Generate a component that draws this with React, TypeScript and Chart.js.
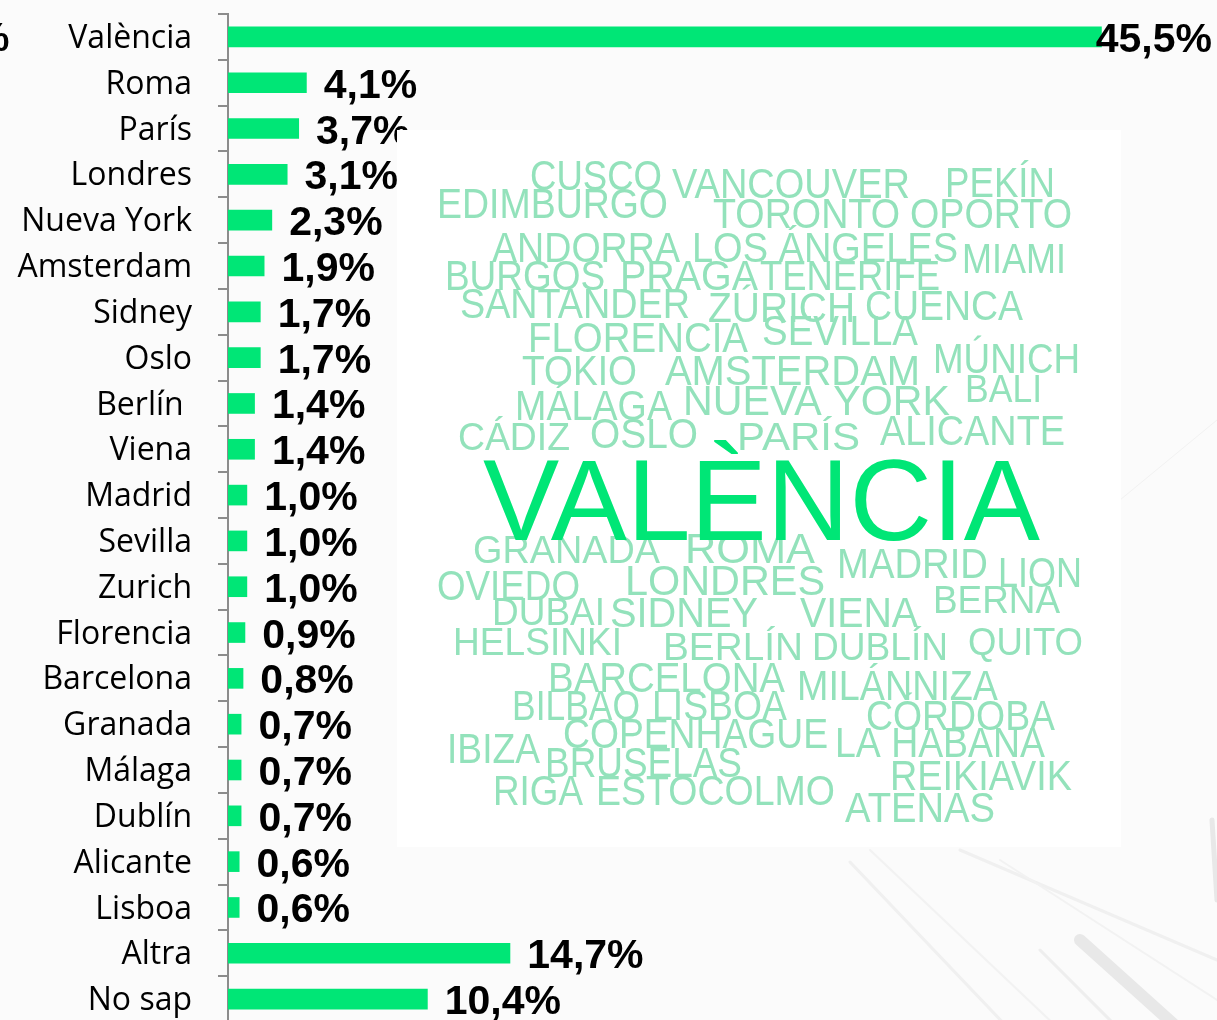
import React, { useEffect, useRef } from 'react';
import { Chart, registerables } from 'chart.js';

Chart.register(...registerables);

const categories = [
  'València', 'Roma', 'París', 'Londres', 'Nueva York', 'Amsterdam', 'Sidney', 'Oslo',
  'Berlín ', 'Viena', 'Madrid', 'Sevilla', 'Zurich', 'Florencia', 'Barcelona', 'Granada',
  'Málaga', 'Dublín', 'Alicante', 'Lisboa', 'Altra', 'No sap',
];
const values = [
  45.5, 4.1, 3.7, 3.1, 2.3, 1.9, 1.7, 1.7, 1.4, 1.4, 1.0, 1.0, 1.0, 0.9, 0.8, 0.7, 0.7, 0.7,
  0.6, 0.6, 14.7, 10.4,
];

// Decorative word cloud: [word, left, top, right, baseline]
const cloudWords: [string, number, number, number, number][] = [
  ['CUSCO', 530, 160, 662, 190],
  ['VANCOUVER', 672, 168, 910, 198],
  ['PEKÍN', 945, 167, 1055, 197],
  ['EDIMBURGO', 437, 188, 668, 218],
  ['TORONTO', 713, 198, 900, 228],
  ['OPORTO', 910, 198, 1072, 228],
  ['ANDORRA', 492, 232, 680, 262],
  ['LOS ÁNGELES', 692, 232, 958, 262],
  ['MIAMI', 962, 243, 1066, 273],
  ['BURGOS', 445, 260, 605, 290],
  ['PRAGA', 620, 260, 758, 290],
  ['TENERIFE', 760, 260, 940, 290],
  ['SANTANDER', 460, 288, 690, 318],
  ['ZÚRICH', 708, 292, 855, 322],
  ['CUENCA', 865, 290, 1023, 320],
  ['FLORENCIA', 528, 322, 748, 352],
  ['SEVILLA', 762, 315, 918, 345],
  ['TOKIO', 522, 355, 637, 385],
  ['AMSTERDAM', 665, 355, 920, 385],
  ['MÚNICH', 933, 343, 1080, 373],
  ['MÁLAGA', 515, 390, 672, 420],
  ['NUEVA YORK', 683, 385, 950, 415],
  ['BALI', 965, 374, 1042, 402],
  ['CÁDIZ', 458, 422, 570, 450],
  ['OSLO', 590, 418, 698, 448],
  ['PARÍS', 737, 422, 860, 450],
  ['ALICANTE', 880, 415, 1065, 445],
  ['GRANADA', 473, 535, 660, 563],
  ['ROMA', 685, 533, 815, 563],
  ['MADRID', 837, 548, 988, 578],
  ['LION', 998, 557, 1082, 587],
  ['OVIEDO', 437, 570, 580, 600],
  ['LONDRES', 625, 565, 825, 595],
  ['DUBAI', 492, 597, 605, 625],
  ['SIDNEY', 610, 597, 758, 627],
  ['VIENA', 800, 597, 918, 627],
  ['BERNA', 933, 585, 1060, 613],
  ['HELSINKI', 453, 627, 622, 655],
  ['BERLÍN', 663, 632, 803, 660],
  ['DUBLÍN', 812, 632, 948, 660],
  ['QUITO', 968, 627, 1083, 655],
  ['BARCELONA', 548, 662, 785, 692],
  ['MILÁNNIZA', 797, 670, 998, 700],
  ['BILBAO', 512, 690, 640, 720],
  ['LISBOA', 652, 690, 787, 720],
  ['CÓRDOBA', 866, 700, 1055, 730],
  ['COPENHAGUE', 563, 718, 828, 748],
  ['LA HABANA', 835, 727, 1045, 757],
  ['IBIZA', 447, 733, 540, 763],
  ['BRUSELAS', 545, 747, 742, 777],
  ['REIKIAVIK', 890, 760, 1072, 790],
  ['RIGA', 493, 775, 583, 805],
  ['ESTOCOLMO', 596, 775, 835, 805],
  ['ATENAS', 845, 792, 995, 822],
];
const cloudTitle: [string, number, number, number, number] = ['VALÈNCIA', 483, 458, 1040, 540];

const BAR_COLOR = '#00e676';
const WORD_COLOR = '#93e2bb';

function fmt(v: number) {
  return v.toFixed(1).replace('.', ',') + '%';
}

function drawFitted(ctx: CanvasRenderingContext2D, w: [string, number, number, number, number]) {
  const [text, x1, top, x2, base] = w;
  const size = (base - top) / 0.716;
  ctx.font = `${size}px "Liberation Sans", Arial, sans-serif`;
  const tw = ctx.measureText(text).width;
  const sx = (x2 - x1) / tw;
  ctx.save();
  ctx.translate(x1, base);
  ctx.scale(sx, 1);
  ctx.fillText(text, 0, 0);
  ctx.restore();
}

const backgroundPlugin = {
  id: 'bgDecor',
  beforeDraw(chart: any) {
    const ctx: CanvasRenderingContext2D = chart.ctx;
    ctx.save();
    ctx.fillStyle = '#fbfbfb';
    ctx.fillRect(0, 0, chart.width, chart.height);
    ctx.lineCap = 'round';
    const strokes: [number, number, number, number, number, string][] = [
      [850, 862, 1010, 1030, 3, '#f0f0f0'],
      [870, 850, 1060, 1030, 2, '#f2f2f2'],
      [960, 850, 1217, 960, 3, '#f0f0f0'],
      [1000, 860, 1217, 1000, 2, '#f2f2f2'],
      [1080, 940, 1180, 1030, 12, '#e8e8e8'],
      [1040, 950, 1120, 1030, 3, '#eeeeee'],
      [1212, 820, 1217, 900, 5, '#e8e8e8'],
      [1120, 500, 1217, 420, 1, '#f2f2f2'],
    ];
    strokes.forEach(([x1, y1, x2, y2, lw, c]) => {
      ctx.strokeStyle = c;
      ctx.lineWidth = lw;
      ctx.beginPath();
      ctx.moveTo(x1, y1);
      ctx.lineTo(x2, y2);
      ctx.stroke();
    });
    ctx.restore();
  },
};

const valueLabelPlugin = {
  id: 'valueLabels',
  afterDatasetsDraw(chart: any) {
    const ctx: CanvasRenderingContext2D = chart.ctx;
    const meta = chart.getDatasetMeta(0);
    ctx.save();
    ctx.font = 'bold 41px "Liberation Sans", Arial, sans-serif';
    ctx.fillStyle = '#000';
    ctx.textBaseline = 'alphabetic';
    ctx.textAlign = 'left';
    meta.data.forEach((bar: any, i: number) => {
      const text = fmt(values[i]);
      const w = ctx.measureText(text).width;
      let x = bar.x + 17;
      if (x + w > chart.width - 5) x = chart.width - 5 - w;
      ctx.fillText(text, x, bar.y + 15);
    });
    // fragment of a clipped label at the far left
    ctx.fillText('%', -27, 51);
    ctx.restore();
  },
};

const wordCloudPlugin = {
  id: 'wordCloud',
  afterDraw(chart: any) {
    const ctx: CanvasRenderingContext2D = chart.ctx;
    ctx.save();
    ctx.fillStyle = '#ffffff';
    ctx.fillRect(397, 130, 724, 717);
    ctx.textBaseline = 'alphabetic';
    ctx.textAlign = 'left';
    ctx.fillStyle = WORD_COLOR;
    cloudWords.forEach((w) => drawFitted(ctx, w));
    ctx.fillStyle = BAR_COLOR;
    drawFitted(ctx, cloudTitle);
    ctx.restore();
  },
};

export default function App() {
  const canvasRef = useRef<HTMLCanvasElement | null>(null);

  useEffect(() => {
    if (!canvasRef.current) return;
    const chart = new Chart(canvasRef.current, {
      type: 'bar',
      data: {
        labels: categories,
        datasets: [
          {
            data: values,
            backgroundColor: BAR_COLOR,
            borderWidth: 0,
            barPercentage: 0.45,
            categoryPercentage: 1,
          },
        ],
      },
      options: {
        indexAxis: 'y',
        animation: false,
        responsive: true,
        maintainAspectRatio: false,
        layout: { padding: { top: 14, bottom: 8, left: 0, right: 0 } },
        plugins: {
          legend: { display: false },
          tooltip: { enabled: false },
          title: { display: false },
        },
        scales: {
          x: {
            display: false,
            min: 0,
            max: 51.5,
          },
          y: {
            afterFit: (scale: any) => {
              scale.width = 228;
              scale.paddingTop = 0;
              scale.paddingBottom = 0;
            },
            grid: {
              display: true,
              offset: true,
              drawOnChartArea: false,
              drawTicks: true,
              tickLength: 10,
              color: '#8c8c8c',
              lineWidth: 2,
            },
            border: { display: true, color: '#8c8c8c', width: 2 },
            ticks: {
              padding: 26,
              labelOffset: 2,
              color: '#000',
              font: { family: '"Open Sans", sans-serif', size: 32 },
              autoSkip: false,
            },
          },
        },
      },
      plugins: [backgroundPlugin, valueLabelPlugin, wordCloudPlugin],
    });
    return () => chart.destroy();
  }, []);

  return (
    <div
      style={{
        position: 'fixed',
        left: 0,
        top: 0,
        width: 1217,
        height: 1020,
        overflow: 'hidden',
        background: '#fbfbfb',
      }}
    >
      <div style={{ position: 'relative', width: 1217, height: 1030 }}>
        <canvas ref={canvasRef} />
      </div>
    </div>
  );
}
